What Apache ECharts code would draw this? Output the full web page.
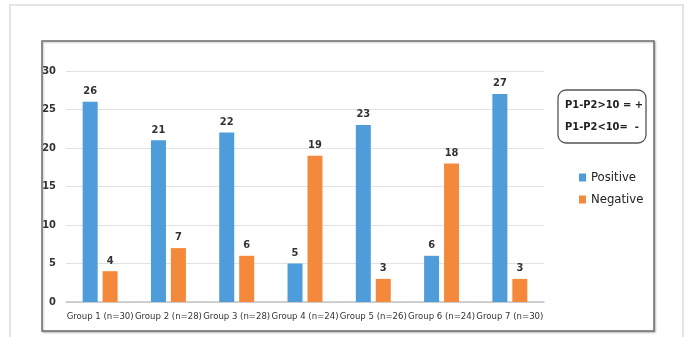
<!DOCTYPE html>
<html>
<head>
<meta charset="utf-8">
<script src="https://cdn.jsdelivr.net/npm/echarts@6/dist/echarts.min.js"></script>
<style>
  html, body { margin: 0; padding: 0; background: #fff; }
  #chart { width: 687px; height: 337px; }
</style>
</head>
<body>
<div id="chart"></div>
<script>
const groups = ['Group 1 (n=30)', 'Group 2 (n=28)', 'Group 3 (n=28)', 'Group 4 (n=24)',
  'Group 5 (n=26)', 'Group 6 (n=24)', 'Group 7 (n=30)'];
const positive = [26, 21, 22, 5, 23, 6, 27];
const negative = [4, 7, 6, 19, 3, 18, 3];
const ruleLines = ['P1-P2>10 = +', 'P1-P2<10=  -'];

const font = '"DejaVu Sans Condensed", sans-serif';
const chart = echarts.init(document.getElementById('chart'), null, { renderer: 'canvas' });

const valueLabel = {
  show: true,
  position: 'top',
  distance: 5,
  color: '#333',
  fontSize: 11,
  fontWeight: 'bold',
  fontFamily: font,
};

chart.setOption({
  animation: false,
  backgroundColor: '#fff',
  graphic: [
    // outer light frame
    { type: 'rect', shape: { x: 10, y: 5, width: 673, height: 340 },
      style: { fill: 'none', stroke: '#e4e4e4', lineWidth: 2 }, z: -10 },
    // inner chart box
    { type: 'rect', shape: { x: 42, y: 41, width: 612, height: 290 },
      style: { fill: '#fff', stroke: '#6f6f6f', lineWidth: 1.5,
        shadowBlur: 2, shadowColor: 'rgba(0,0,0,0.25)', shadowOffsetX: 1, shadowOffsetY: 1 }, z: -5 },
    // rule box
    { type: 'rect', shape: { x: 558, y: 90, width: 88, height: 53, r: 8 },
      style: { fill: '#fff', stroke: '#555', lineWidth: 1.3 } },
    { type: 'text', x: 565, y: 105,
      style: { text: ruleLines[0], fill: '#222', font: 'bold 11px ' + font, textVerticalAlign: 'middle' } },
    { type: 'text', x: 565, y: 127,
      style: { text: ruleLines[1], fill: '#222', font: 'bold 11px ' + font, textVerticalAlign: 'middle' } },
  ],
  legend: {
    orient: 'vertical',
    left: 574,
    top: 166,
    itemWidth: 7,
    itemHeight: 8,
    itemGap: 9,
    icon: 'rect',
    textStyle: { color: '#222', fontSize: 13, fontFamily: font },
    data: ['Positive', 'Negative'],
  },
  grid: { left: 66, right: 143, top: 71, bottom: 35, containLabel: false },
  xAxis: {
    type: 'category',
    data: groups,
    axisLine: { show: true, lineStyle: { color: '#c4c4c4', width: 1.5 } },
    axisTick: { show: false },
    axisLabel: { color: '#333', fontSize: 9.5, fontFamily: font, margin: 10, interval: 0,
      overflow: 'none', hideOverlap: false },
  },
  yAxis: {
    type: 'value',
    min: 0,
    max: 30,
    interval: 5,
    axisLine: { show: false },
    axisTick: { show: false },
    splitLine: { lineStyle: { color: '#e2e2e2', width: 1 } },
    axisLabel: { color: '#333', fontSize: 11, fontWeight: 'bold', fontFamily: font, margin: 10 },
  },
  series: [
    { name: 'Positive', type: 'bar', data: positive, barWidth: 15, barGap: '33%',
      itemStyle: { color: '#4e9cda' }, label: valueLabel },
    { name: 'Negative', type: 'bar', data: negative, barWidth: 15,
      itemStyle: { color: '#f4893c' }, label: valueLabel },
  ],
});
</script>
</body>
</html>
